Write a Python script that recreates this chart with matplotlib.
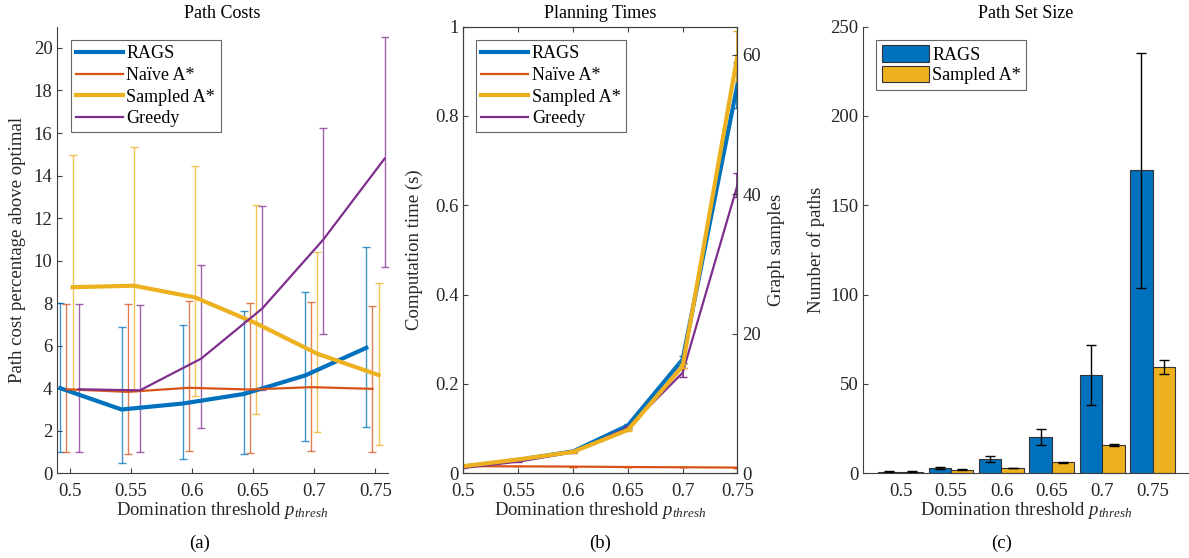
import matplotlib
matplotlib.use("Agg")
import matplotlib.pyplot as plt
import numpy as np

plt.rcParams['font.family'] = ['Liberation Serif', 'DejaVu Serif']
plt.rcParams['mathtext.fontset'] = 'custom'
plt.rcParams['mathtext.rm'] = 'Liberation Serif'
plt.rcParams['mathtext.it'] = 'Liberation Serif:italic'
plt.rcParams['font.size'] = 12
plt.rcParams['xtick.direction'] = 'in'
plt.rcParams['ytick.direction'] = 'in'
plt.rcParams['xtick.major.size'] = 3.5
plt.rcParams['ytick.major.size'] = 3.5

# data
thresh = [0.5, 0.55, 0.6, 0.65, 0.7, 0.75]
methods = ['RAGS', 'Naïve A*', 'Sampled A*', 'Greedy']
colours = ['#0072BD', '#D95319', '#EDB120', '#7E2F8E']

# path cost (% above optimal): mean, lower end and upper end of error bar
cost_mean = {
    'RAGS':       [4.0, 3.0, 3.28, 3.73, 4.6, 5.9],
    'Naïve A*':   [3.95, 3.83, 4.02, 3.94, 4.05, 3.97],
    'Sampled A*': [8.75, 8.82, 8.27, 7.05, 5.62, 4.62],
    'Greedy':     [3.95, 3.9, 5.39, 7.75, 11.0, 14.8],
}
cost_low = {
    'RAGS':       [1.0, 0.47, 0.69, 0.91, 1.5, 2.2],
    'Naïve A*':   [1.0, 0.91, 1.05, 0.97, 1.05, 1.0],
    'Sampled A*': [3.81, 3.85, 3.65, 2.79, 1.94, 1.34],
    'Greedy':     [1.0, 1.02, 2.11, 3.91, 6.54, 9.72],
}
cost_high = {
    'RAGS':       [8.0, 6.88, 6.98, 7.64, 8.54, 10.65],
    'Naïve A*':   [7.95, 7.95, 8.1, 8.02, 8.04, 7.86],
    'Sampled A*': [14.95, 15.35, 14.45, 12.6, 10.4, 8.94],
    'Greedy':     [7.95, 7.9, 9.79, 12.58, 16.25, 20.5],
}
cost_offset = [-0.0075, -0.0025, 0.0025, 0.0075]

# planning time (s): mean and symmetric error
time_mean = {
    'RAGS':       [0.015, 0.03, 0.049, 0.107, 0.255, 0.870],
    'Naïve A*':   [0.016, 0.0155, 0.015, 0.014, 0.0135, 0.0128],
    'Sampled A*': [0.016, 0.031, 0.048, 0.097, 0.240, 0.935],
    'Greedy':     [0.012, 0.026, 0.047, 0.102, 0.225, 0.645],
}
time_err = {
    'RAGS':       [0.001, 0.001, 0.002, 0.003, 0.008, 0.052],
    'Naïve A*':   [0.0, 0.0, 0.0, 0.0, 0.0, 0.0],
    'Sampled A*': [0.001, 0.001, 0.002, 0.003, 0.005, 0.056],
    'Greedy':     [0.001, 0.001, 0.002, 0.003, 0.010, 0.027],
}

# path set size
size_rags = [1.0, 3.0, 8.0, 20.3, 55.0, 169.6]
size_rags_err = [0.3, 0.5, 1.5, 4.5, 16.6, 65.6]
size_samp = [1.0, 2.0, 3.0, 6.1, 15.8, 59.5]
size_samp_err = [0.1, 0.2, 0.2, 0.3, 0.5, 3.8]

line_w = {'RAGS': 3.0, 'Naïve A*': 1.6, 'Sampled A*': 3.0, 'Greedy': 1.6}
tick_labels = ['0.5', '0.55', '0.6', '0.65', '0.7', '0.75']
axcol = '#404040'
txtcol = '#262626'

fig = plt.figure(figsize=(11.89, 5.58), dpi=100)

def style(ax):
    for s in ax.spines.values():
        s.set_color(axcol)
        s.set_linewidth(0.8)
    ax.tick_params(colors=axcol, labelcolor=txtcol, labelsize=13.5)
    ax.tick_params(axis='x', pad=7)

xlab = r'Domination threshold $p_{thresh}$'
leg_kw = dict(loc='upper left', fancybox=False, edgecolor=axcol, fontsize=13,
              handlelength=2.6, borderpad=0.3, handletextpad=0.2,
              borderaxespad=0)

# ---- (a) Path costs
ax1 = fig.add_axes([0.0482, 0.1518, 0.2779, 0.8004])
for i, m in enumerate(methods):
    x = np.array(thresh) + cost_offset[i]
    mu = np.array(cost_mean[m])
    lo = mu - np.array(cost_low[m])
    hi = np.array(cost_high[m]) - mu
    ax1.errorbar(x, mu, yerr=[lo, hi], fmt='none', ecolor=colours[i],
                 elinewidth=1.0, capsize=3, alpha=0.75, zorder=2)
for i, m in enumerate(methods):
    x = np.array(thresh) + cost_offset[i]
    ax1.plot(x, cost_mean[m], color=colours[i], lw=line_w[m], label=m, zorder=3)
ax1.set_xlim(0.49, 0.76)
ax1.set_ylim(0, 21)
ax1.set_xticks(thresh)
ax1.set_xticklabels(tick_labels)
ax1.set_yticks(range(0, 21, 2))
ax1.spines['top'].set_visible(False)
ax1.spines['right'].set_visible(False)
style(ax1)
ax1.set_title('Path Costs', fontsize=13, pad=6)
ax1.set_ylabel('Path cost percentage above optimal', fontsize=13.5, color=txtcol)
ax1.set_xlabel(xlab, fontsize=13.5, color=txtcol, labelpad=0)
ax1.yaxis.set_label_coords(-0.095, 0.5)
leg = ax1.legend(bbox_to_anchor=(0.04, 0.97), labelspacing=0.25, **leg_kw)
leg.get_frame().set_linewidth(0.8)

# ---- (b) Planning times
ax2 = fig.add_axes([0.3898, 0.1518, 0.2304, 0.8004])
order = [0, 1, 3, 2]
for i in order:
    m = methods[i]
    ax2.errorbar(thresh, time_mean[m], yerr=time_err[m], fmt='none',
                 ecolor=colours[i], elinewidth=1.2, capsize=3)
    ax2.plot(thresh, time_mean[m], color=colours[i], lw=line_w[m], label=m)
ax2.set_xlim(0.5, 0.75)
ax2.set_ylim(0, 1)
ax2.set_xticks(thresh)
ax2.set_xticklabels(tick_labels)
ax2.set_yticks([0, 0.2, 0.4, 0.6, 0.8, 1])
ax2.set_yticklabels(['0', '0.2', '0.4', '0.6', '0.8', '1'])
ax2.tick_params(top=True, right=True)
style(ax2)
ax2.set_title('Planning Times', fontsize=13, pad=6)
ax2.set_ylabel('Computation time (s)', fontsize=13.5, color=txtcol)
ax2.set_xlabel(xlab, fontsize=13.5, color=txtcol, labelpad=0)
ax2.yaxis.set_label_coords(-0.148, 0.5)
h, l = ax2.get_legend_handles_labels()
idx = [l.index(m) for m in methods]
leg = ax2.legend([h[k] for k in idx], [l[k] for k in idx],
                 bbox_to_anchor=(0.045, 0.97), labelspacing=0.25, **leg_kw)
leg.get_frame().set_linewidth(0.8)
ax2b = ax2.twinx()
ax2b.set_ylim(0, 64)
ax2b.set_yticks([0, 20, 40, 60])
style(ax2b)
ax2b.set_ylabel('Graph samples', fontsize=13.5, color=txtcol)
ax2b.yaxis.set_label_coords(1.111, 0.5)

# ---- (c) Path set size
ax3 = fig.add_axes([0.7261, 0.1518, 0.2739, 0.8004])
pos = np.arange(1, len(thresh) + 1)
bw = 0.445
ax3.bar(pos - bw / 2, size_rags, bw, color='#0072BD', edgecolor='#333333',
        linewidth=0.8, label='RAGS')
ax3.bar(pos + bw / 2, size_samp, bw, color='#EDB120', edgecolor='#333333',
        linewidth=0.8, label='Sampled A*')
ax3.errorbar(pos - bw / 2, size_rags, yerr=size_rags_err, fmt='none',
             ecolor='black', elinewidth=1.0, capsize=3.5)
ax3.errorbar(pos + bw / 2, size_samp, yerr=size_samp_err, fmt='none',
             ecolor='black', elinewidth=1.0, capsize=3.5)
ax3.set_xlim(0.26, 6.72)
ax3.set_ylim(0, 250)
ax3.set_xticks(pos)
ax3.set_xticklabels(tick_labels)
ax3.set_yticks(range(0, 251, 50))
ax3.spines['top'].set_visible(False)
ax3.spines['right'].set_visible(False)
style(ax3)
ax3.tick_params(axis='x', length=0)
ax3.set_title('Path Set Size', fontsize=13, pad=6)
ax3.set_ylabel('Number of paths', fontsize=13.5, color=txtcol)
ax3.set_xlabel(xlab, fontsize=13.5, color=txtcol, labelpad=0)
ax3.yaxis.set_label_coords(-0.118, 0.5)
leg = ax3.legend(bbox_to_anchor=(0.04, 0.97), handleheight=1.0,
                 labelspacing=0.12, **leg_kw)
leg.get_frame().set_linewidth(0.8)

# sub-figure captions
fig.text(200 / 1189, 1 - 543 / 558, '(a)', ha='center', va='center', fontsize=13.5)
fig.text(600 / 1189, 1 - 543 / 558, '(b)', ha='center', va='center', fontsize=13.5)
fig.text(1002 / 1189, 1 - 543 / 558, '(c)', ha='center', va='center', fontsize=13.5)

fig.savefig('out.png', dpi=100)
